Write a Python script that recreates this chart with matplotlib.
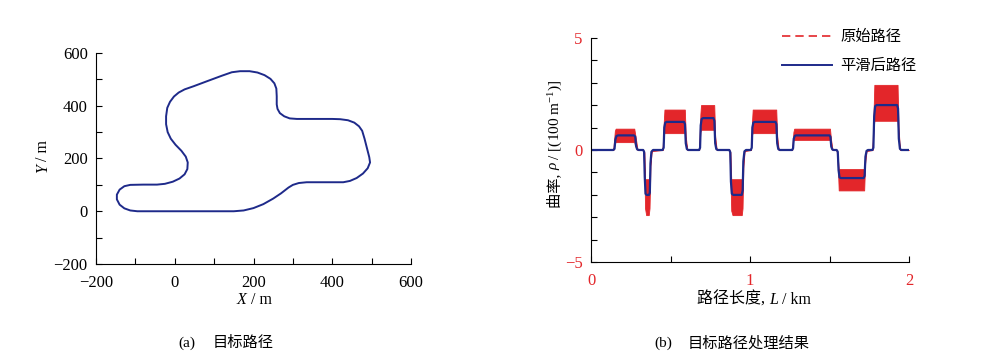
import numpy as np
import matplotlib.pyplot as plt
from matplotlib.ticker import MultipleLocator
from matplotlib.lines import Line2D

plt.rcParams['font.family'] = ['Liberation Serif', 'Noto Sans CJK SC', 'DejaVu Sans']
plt.rcParams['mathtext.fontset'] = 'custom'
plt.rcParams['mathtext.rm'] = 'Liberation Serif'
plt.rcParams['mathtext.it'] = 'Liberation Serif:italic'

# target path (m)
path_x = [0, 100, 150, 175, 200, 225, 250, 270, 289, 300, 315, 335, 380, 428,
          445, 462, 478, 490, 496, 494, 488, 482, 476, 468, 456, 440, 420, 400, 350,
          310, 292, 278, 267, 261, 259, 259, 258, 253, 243, 228, 210, 190, 166, 145,
          120, 82, 48, 25, 10, -2, -12, -19, -22, -22, -18, -10, 2, 17, 28,
          33, 32, 25, 12, -5, -25, -45, -80, -113, -128, -140, -147, -147, -140, -128,
          -113, -95, -80, 0]
path_y = [0, 0, 0, 3, 12, 27, 48, 68, 90, 100, 107, 110, 110, 110,
          115, 126, 143, 163, 185, 205, 240, 275, 305, 322, 336, 345, 349, 350, 350,
          350, 352, 360, 372, 388, 405, 436, 465, 485, 502, 516, 526, 531, 531, 527,
          514, 493, 474, 462, 450, 435, 415, 392, 360, 330, 300, 275, 252, 229, 207,
          185, 160, 140, 124, 112, 104, 101, 101, 100, 95, 82, 63, 45, 25, 11,
          3, 0, 0, 0]

# smoothed curvature (1/100 m) vs path length (km)
L_s = [0, 0.140, 0.148, 0.153, 0.160, 0.170, 0.270, 0.278, 0.283, 0.290, 0.300,
       0.328, 0.334, 0.338, 0.343, 0.350, 0.365, 0.370, 0.374, 0.380, 0.390,
       0.450, 0.457, 0.461, 0.467, 0.475, 0.585, 0.591, 0.596, 0.603, 0.612,
       0.680, 0.686, 0.690, 0.696, 0.705, 0.770, 0.776, 0.781, 0.788, 0.797,
       0.870, 0.876, 0.880, 0.886, 0.895, 0.948, 0.954, 0.958, 0.965, 0.975,
       1.005, 1.011, 1.015, 1.021, 1.030, 1.160, 1.166, 1.171, 1.178, 1.187,
       1.265, 1.271, 1.275, 1.282, 1.290, 1.500, 1.506, 1.511, 1.518, 1.527,
       1.545, 1.552, 1.557, 1.563, 1.572, 1.715, 1.721, 1.726, 1.733, 1.742,
       1.770, 1.776, 1.781, 1.787, 1.796, 1.925, 1.931, 1.936, 1.943, 1.952, 2.0]
rho_s = [0, 0, 0.05, 0.45, 0.62, 0.65, 0.65, 0.60, 0.20, 0.03, 0,
         0, -0.08, -1.2, -1.95, -2.0, -2.0, -1.9, -0.6, -0.08, 0,
         0, 0.1, 1.0, 1.22, 1.25, 1.25, 1.15, 0.3, 0.04, 0,
         0, 0.1, 1.1, 1.38, 1.42, 1.42, 1.3, 0.3, 0.04, 0,
         0, -0.1, -1.4, -1.95, -2.0, -2.0, -1.8, -0.5, -0.06, 0,
         0, 0.1, 1.0, 1.22, 1.25, 1.25, 1.15, 0.3, 0.04, 0,
         0, 0.08, 0.5, 0.63, 0.65, 0.65, 0.58, 0.15, 0.02, 0,
         0, -0.08, -0.9, -1.22, -1.25, -1.25, -1.15, -0.3, -0.04, 0,
         0, 0.1, 1.5, 1.95, 2.0, 2.0, 1.85, 0.5, 0.05, 0, 0]

# original (noisy) curvature: band lower / upper bounds
L_r = [0, 0.140, 0.150, 0.155, 0.272, 0.280, 0.292,
       0.328, 0.336, 0.340, 0.347, 0.363, 0.368, 0.374, 0.382,
       0.450, 0.458, 0.462, 0.590, 0.596, 0.605,
       0.680, 0.688, 0.692, 0.775, 0.781, 0.790,
       0.870, 0.877, 0.882, 0.890, 0.948, 0.953, 0.958, 0.966,
       1.005, 1.013, 1.017, 1.165, 1.171, 1.180,
       1.265, 1.273, 1.278, 1.503, 1.509, 1.518,
       1.545, 1.553, 1.558, 1.718, 1.724, 1.733,
       1.770, 1.778, 1.782, 1.928, 1.934, 1.943, 2.0]
rho_lo = [0, 0, 0.3, 0.35, 0.35, 0.15, 0,
          0, -1.0, -2.6, -2.9, -2.9, -2.6, -0.7, -0.05,
          0, 0.7, 0.75, 0.75, 0.3, 0,
          0, 0.8, 0.9, 0.9, 0.3, 0,
          0, -1.2, -2.7, -2.9, -2.9, -2.6, -0.8, -0.05,
          0, 0.7, 0.75, 0.75, 0.3, 0,
          0, 0.45, 0.45, 0.45, 0.15, 0,
          0, -0.8, -1.8, -1.8, -0.6, -0.05,
          0, 1.0, 1.3, 1.3, 0.5, 0, 0]
rho_hi = [0, 0, 0.85, 0.95, 0.95, 0.6, 0.05,
          0, -0.1, -1.3, -1.3, -1.3, -1.3, -0.3, 0,
          0, 1.3, 1.8, 1.8, 0.6, 0.05,
          0, 1.6, 2.0, 2.0, 0.6, 0.05,
          0, -0.1, -1.3, -1.3, -1.3, -1.3, -0.3, 0,
          0, 1.3, 1.8, 1.8, 0.6, 0.05,
          0, 0.8, 0.95, 0.95, 0.5, 0.05,
          0, -0.4, -0.85, -0.85, -0.3, 0,
          0, 1.9, 2.9, 2.9, 1.0, 0.05, 0]

blue = '#1e2a8a'
red = '#e3262a'
fs = 12


def rich_text(ax, x, y, pieces, rotation=0, size=11.5):
    t = ax.figure.text(x, y, pieces[0][0], rotation=rotation, ha='left', va='bottom',
                       size=size, style=pieces[0][1])
    xy = (1, 0) if rotation == 0 else (0, 1)
    for s, st in pieces[1:]:
        t = ax.annotate(s, xy=xy, xycoords=t, ha='left', va='bottom', rotation=rotation,
                        size=size, style=st, annotation_clip=False)


fig = plt.figure(figsize=(10, 3.59), dpi=100)
ax1 = fig.add_axes([0.096, 0.2646, 0.315, 0.5878])
ax2 = fig.add_axes([0.591, 0.2694, 0.318, 0.6256])

# left: path
ax1.plot(path_x, path_y, color=blue, lw=1.4, solid_joinstyle='round', solid_capstyle='butt')
ax1.set_xlim(-200, 600)
ax1.set_ylim(-200, 600)
ax1.xaxis.set_major_locator(MultipleLocator(200))
ax1.xaxis.set_minor_locator(MultipleLocator(100))
ax1.yaxis.set_major_locator(MultipleLocator(200))
ax1.yaxis.set_minor_locator(MultipleLocator(100))

# right: curvature
ax2.fill_between(L_r, rho_lo, rho_hi, color=red, lw=0.6, edgecolor=red)
ax2.plot(L_s, rho_s, color=blue, lw=1.6, solid_joinstyle='round')
ax2.set_xlim(0, 2)
ax2.set_ylim(-5, 5)
ax2.xaxis.set_major_locator(MultipleLocator(1))
ax2.xaxis.set_minor_locator(MultipleLocator(0.5))
ax2.yaxis.set_major_locator(MultipleLocator(5))
ax2.yaxis.set_minor_locator(MultipleLocator(1))

for ax in (ax1, ax2):
    for side in ('top', 'right'):
        ax.spines[side].set_visible(False)
    for side in ('left', 'bottom'):
        ax.spines[side].set_linewidth(0.8)
    ax.tick_params(which='both', direction='in', length=4, width=0.8, labelsize=fs)
    ax.tick_params(axis='x', which='both', pad=8)
    ax.tick_params(axis='y', which='both', pad=6)
ax2.tick_params(which='both', labelcolor=red)

handles = [Line2D([], [], color=red, lw=1.2, dashes=(5, 3)),
           Line2D([], [], color=blue, lw=1.4)]
fig.legend(handles, ['原始路径', '平滑后路径'], loc='upper right', bbox_to_anchor=(0.93, 0.955),
           frameon=False, fontsize=11, handlelength=3.3, labelspacing=1.0, handletextpad=0.5)

# axis labels
rich_text(ax1, 0.237, 0.142, [('X', 'italic'), (' / m', 'normal')])
rich_text(ax1, 0.035, 0.517, [('Y', 'italic'), (' / m', 'normal')], rotation=90)
rich_text(ax2, 0.697, 0.142, [('路径长度, ', 'normal'), ('L', 'italic'), (' / km', 'normal')])
rich_text(ax2, 0.547, 0.42, [('曲率, ', 'normal'), ('ρ', 'italic'),
                             (' / [(100 m$^{-1}$)]', 'normal')], rotation=90, size=11)

# captions
fig.text(0.178, 0.045, '(a)', ha='left', va='center', size=11)
fig.text(0.213, 0.045, '目标路径', ha='left', va='center', size=11)
fig.text(0.654, 0.045, '(b)', ha='left', va='center', size=11)
fig.text(0.688, 0.045, '目标路径处理结果', ha='left', va='center', size=11)

fig.savefig('out.png', dpi=100)
